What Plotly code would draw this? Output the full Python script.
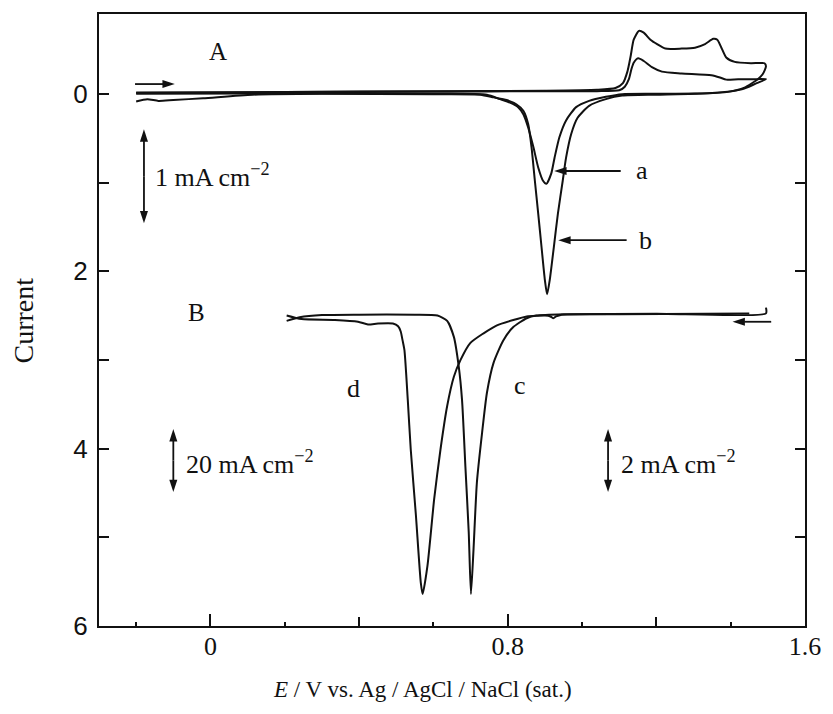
import plotly.graph_objects as go

# ---- Panel A: cyclic voltammograms a and b (current in scaled units, cathodic down) ----
a_E = [-0.200, 0.200, 0.600, 0.900, 1.040, 1.100, 1.115, 1.126, 1.133, 1.139, 1.151, 1.166,
       1.188, 1.215, 1.268, 1.348, 1.371, 1.388, 1.420, 1.470, 1.495,
       1.470, 1.430, 1.350, 1.200, 1.108, 1.064, 1.019, 0.984, 0.957, 0.939, 0.926, 0.917,
       0.904, 0.895, 0.882, 0.869, 0.855, 0.842, 0.828, 0.806, 0.779, 0.744, 0.600, 0.200, -0.200]
a_I = [-0.015, -0.020, -0.025, -0.030, -0.030, -0.040, -0.080, -0.165, -0.280, -0.350, -0.400, -0.370,
       -0.300, -0.250, -0.230, -0.210, -0.185, -0.160, -0.165, -0.165, -0.165,
       -0.120, -0.050, -0.010, 0.000, 0.004, 0.034, 0.080, 0.150, 0.300, 0.490, 0.720, 0.900,
       1.015, 0.980, 0.830, 0.600, 0.380, 0.230, 0.150, 0.100, 0.060, 0.010, 0.000, -0.005, 0.000]

b_E = [-0.200, 0.200, 0.600, 0.900, 1.040, 1.090, 1.110, 1.122, 1.131, 1.139, 1.153, 1.166,
       1.184, 1.202, 1.224, 1.268, 1.304, 1.331, 1.353, 1.364, 1.375, 1.388, 1.411, 1.455,
       1.491, 1.495, 1.486, 1.473, 1.437, 1.393, 1.304, 1.200, 1.108, 1.064, 1.019, 0.988,
       0.971, 0.957, 0.948, 0.935, 0.924, 0.913, 0.906, 0.900, 0.891, 0.882, 0.873, 0.864,
       0.855, 0.842, 0.824, 0.797, 0.762, 0.726, 0.600, 0.300, 0.113, -0.020, -0.100, -0.140,
       -0.170, -0.200]
b_I = [-0.010, -0.020, -0.030, -0.035, -0.045, -0.065, -0.120, -0.250, -0.430, -0.610, -0.710, -0.690,
       -0.610, -0.560, -0.510, -0.510, -0.520, -0.560, -0.620, -0.610, -0.520, -0.410, -0.360, -0.345,
       -0.345, -0.310, -0.220, -0.165, -0.070, -0.022, 0.000, 0.010, 0.020, 0.060, 0.135, 0.270,
       0.450, 0.720, 0.980, 1.350, 1.730, 2.100, 2.260, 2.100, 1.730, 1.350, 0.980, 0.600,
       0.340, 0.190, 0.120, 0.070, 0.040, 0.010, 0.005, 0.000, 0.010, 0.050, 0.070, 0.080,
       0.060, 0.086]

# ---- Panel B: voltammograms c and d (offset below panel A) ----
c_E = [0.205, 0.240, 0.300, 0.400, 0.550, 0.611, 0.637, 0.655, 0.668, 0.677, 0.686, 0.695,
       0.701, 0.708, 0.717, 0.731, 0.744, 0.762, 0.788, 0.815, 0.851, 0.877, 0.950, 1.200,
       1.495, 1.495]
c_I = [2.560, 2.520, 2.495, 2.490, 2.490, 2.500, 2.560, 2.740, 3.070, 3.450, 4.200, 4.940,
       5.640, 5.130, 4.380, 3.820, 3.370, 3.030, 2.780, 2.630, 2.530, 2.500, 2.485, 2.480,
       2.475, 2.410]

d_E = [0.205, 0.245, 0.335, 0.397, 0.424, 0.451, 0.491, 0.505, 0.512, 0.517, 0.522, 0.531,
       0.539, 0.553, 0.566, 0.571, 0.584, 0.602, 0.619, 0.637, 0.655, 0.673, 0.699, 0.735,
       0.771, 0.815, 0.851, 0.900, 0.915, 0.922, 0.930, 0.945, 1.100, 1.450]
d_I = [2.500, 2.540, 2.550, 2.570, 2.600, 2.590, 2.590, 2.620, 2.680, 2.780, 2.890, 3.450,
       4.010, 4.760, 5.510, 5.640, 5.320, 4.570, 4.010, 3.520, 3.190, 3.000, 2.810, 2.700,
       2.610, 2.550, 2.510, 2.500, 2.510, 2.530, 2.510, 2.490, 2.485, 2.478]

# ---- Axis ticks ----
x_labelled = [0, 0.8, 1.6]
x_labelled_text = ["0", "0.8", "1.6"]
x_mid = [0.4, 1.2]
x_minor = [-0.2, 0.2, 0.6, 1.0, 1.4]
y_labelled = [0, 2, 4, 6]
y_labelled_text = ["0", "2", "4", "6"]
y_minor = [1, 3, 5]

SERIF = "Liberation Serif, Times New Roman, serif"
SANS = "Liberation Sans, Arial, sans-serif"
INK = "#111111"
X_RANGE = [-0.3, 1.6]

fig = go.Figure()
for E, I in [(a_E, a_I), (b_E, b_I), (c_E, c_I), (d_E, d_I)]:
    fig.add_trace(go.Scatter(x=E, y=I, mode="lines",
                             line=dict(color=INK, width=2, shape="spline", smoothing=0.6),
                             showlegend=False, hoverinfo="skip"))
# empty trace that carries the unlabelled 0.4 / 1.2 ticks on an overlaid axis
fig.add_trace(go.Scatter(x=[], y=[], xaxis="x2", showlegend=False, hoverinfo="skip"))


def arrow(x_tail, y_tail, x_head, y_head):
    """Straight shaft with a filled head at (x_head, y_head)."""
    fig.add_trace(go.Scatter(
        x=[x_tail, x_head], y=[y_tail, y_head], mode="lines+markers",
        line=dict(color=INK, width=1.8),
        marker=dict(symbol="arrow", size=13, angleref="previous", color=INK,
                    line=dict(width=0)),
        showlegend=False, hoverinfo="skip"))


def scale_bar(x, y_top, y_bottom):
    """Vertical double-headed arrow."""
    mid = (y_top + y_bottom) / 2
    arrow(x, mid, x, y_top)
    arrow(x, mid, x, y_bottom)


annotations = []


def text_label(x, y, text, xanchor="center", size=26):
    annotations.append(dict(x=x, y=y, xref="x", yref="y", text=text, showarrow=False,
                            xanchor=xanchor, yanchor="middle",
                            font=dict(family=SERIF, size=size, color=INK)))


# panel and curve labels
text_label(0.019, -0.48, "A", size=25)
text_label(-0.037, 2.47, "B", size=25)
text_label(0.386, 3.32, "d")
text_label(0.832, 3.29, "c")
text_label(1.141, 0.87, "a", xanchor="left")
text_label(1.147, 1.65, "b", xanchor="left")

# current scale bars
scale_bar(-0.179, 0.40, 1.46)
text_label(-0.155, 0.92, "1 mA cm<sup>−2</sup>", xanchor="left")
scale_bar(-0.100, 3.78, 4.49)
text_label(-0.072, 4.16, "20 mA cm<sup>−2</sup>", xanchor="left")
scale_bar(1.070, 3.78, 4.49)
text_label(1.099, 4.16, "2 mA cm<sup>−2</sup>", xanchor="left")

# pointers to curves a and b, and sweep directions
arrow(1.104, 0.87, 0.925, 0.87)
arrow(1.120, 1.65, 0.936, 1.65)
arrow(-0.203, -0.11, -0.096, -0.11)
arrow(1.509, 2.57, 1.405, 2.57)

# axis titles
annotations.append(dict(x=0.458, y=-0.104, xref="paper", yref="paper", showarrow=False,
                        text="<i>E</i> / V vs. Ag / AgCl / NaCl (sat.)",
                        xanchor="center", yanchor="middle",
                        font=dict(family=SERIF, size=23, color=INK)))
annotations.append(dict(x=-0.107, y=0.5, xref="paper", yref="paper", showarrow=False,
                        text="Current", textangle=-90,
                        xanchor="center", yanchor="middle",
                        font=dict(family=SERIF, size=28, color=INK)))

fig.update_layout(
    width=833, height=714,
    margin=dict(l=99, r=22, t=13, b=88),
    paper_bgcolor="white", plot_bgcolor="white",
    annotations=annotations,
    xaxis=dict(range=X_RANGE, tickvals=x_labelled, ticktext=x_labelled_text,
               ticks="inside", ticklen=12, tickwidth=1.6, tickcolor=INK,
               minor=dict(tickvals=x_minor, ticks="inside", ticklen=4, tickwidth=1.6, tickcolor=INK),
               showline=True, linewidth=2, linecolor=INK, mirror=True,
               showgrid=False, zeroline=False,
               tickfont=dict(family=SERIF, size=26, color=INK), ticklabelstandoff=-4),
    xaxis2=dict(range=X_RANGE, overlaying="x", side="bottom", anchor="y",
                tickvals=x_mid, ticks="inside", ticklen=9, tickwidth=1.6, tickcolor=INK,
                showticklabels=False, showline=False, showgrid=False, zeroline=False),
    yaxis=dict(range=[6, -0.9], tickvals=y_labelled, ticktext=y_labelled_text,
               ticks="inside", ticklen=10, tickwidth=1.6, tickcolor=INK,
               minor=dict(tickvals=y_minor, ticks="inside", ticklen=10, tickwidth=1.6, tickcolor=INK),
               showline=True, linewidth=2, linecolor=INK, mirror="ticks",
               showgrid=False, zeroline=False,
               tickfont=dict(family=SANS, size=26, color=INK), ticklabelstandoff=4),
)

fig.write_html("out.html")
